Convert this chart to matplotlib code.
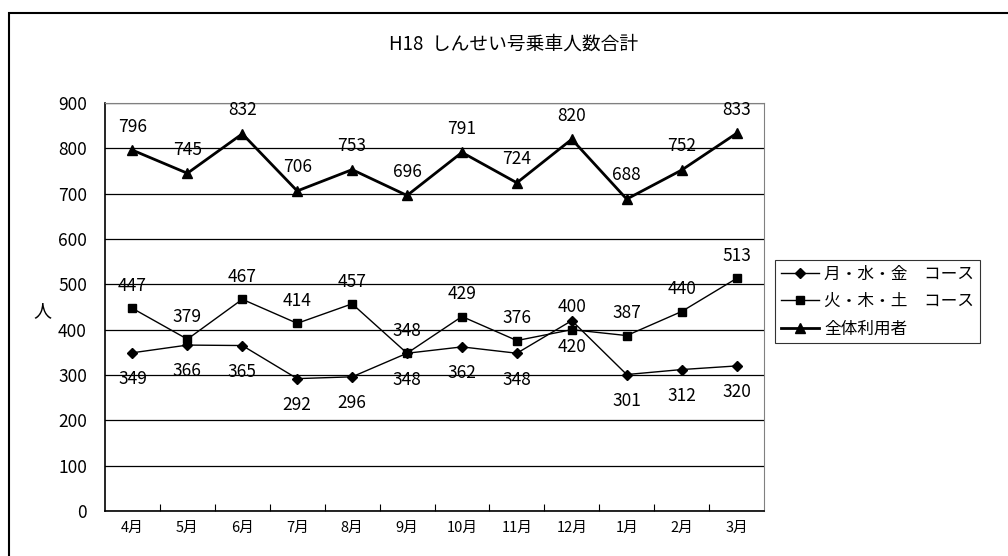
import matplotlib
matplotlib.use("Agg")
import matplotlib.pyplot as plt
from matplotlib.patches import Rectangle

plt.rcParams['font.family'] = ['Noto Sans CJK JP', 'DejaVu Sans']

# データ
months = ["4月", "5月", "6月", "7月", "8月", "9月", "10月", "11月", "12月", "1月", "2月", "3月"]
mwf = [349, 366, 365, 292, 296, 348, 362, 348, 420, 301, 312, 320]
tts = [447, 379, 467, 414, 457, 348, 429, 376, 400, 387, 440, 513]
total = [796, 745, 832, 706, 753, 696, 791, 724, 820, 688, 752, 833]
names = ["月・水・金　コース", "火・木・土　コース", "全体利用者"]

fig = plt.figure(figsize=(10.08, 5.56), dpi=100)
ax = fig.add_axes([105 / 1008, 1 - 511 / 556, 659 / 1008, 408 / 556])

# 外枠
fig.patches.append(Rectangle((9 / 1008, -0.05), 1.1, 1 - 13 / 556 + 0.05,
                             transform=fig.transFigure, fill=False,
                             edgecolor="black", linewidth=1.5))

x = range(len(months))
ax.plot(x, mwf, color="black", lw=1, marker="D", ms=5, label=names[0])
ax.plot(x, tts, color="black", lw=1, marker="s", ms=6, label=names[1])
ax.plot(x, total, color="black", lw=2, marker="^", ms=7, label=names[2])

# データラベル
for i in x:
    ax.annotate(str(mwf[i]), (i, mwf[i]), xytext=(0, -19), textcoords="offset points",
                ha="center", va="center", fontsize=12.5)
    ax.annotate(str(tts[i]), (i, tts[i]), xytext=(0, 16), textcoords="offset points",
                ha="center", va="center", fontsize=12.5)
    ax.annotate(str(total[i]), (i, total[i]), xytext=(0, 17), textcoords="offset points",
                ha="center", va="center", fontsize=12.5)

ax.set_xlim(-0.5, len(months) - 0.5)
ax.set_ylim(0, 900)
ax.set_yticks(range(0, 901, 100))
ax.tick_params(axis="y", length=0, labelsize=12.5, pad=13)
ax.set_xticks(x)
ax.set_xticklabels(months, fontsize=10.5)
ax.tick_params(axis="x", length=0, pad=7)
ax.set_xticks([i + 0.5 for i in range(len(months) - 1)], minor=True)
ax.tick_params(axis="x", which="minor", direction="in", length=5, width=0.8)
ax.grid(axis="y", color="black", lw=0.9)
ax.set_axisbelow(True)

for s in ["top", "right"]:
    ax.spines[s].set_color("gray")
for s in ["left", "bottom"]:
    ax.spines[s].set_color("black")
    ax.spines[s].set_linewidth(1.2)

ax.set_ylabel("人", rotation=0, fontsize=13, va="center", ha="center")
ax.yaxis.set_label_coords(-0.095, 0.49)

fig.text(514 / 1008, 1 - 44 / 556, "H18  しんせい号乗車人数合計", ha="center", va="center", fontsize=13.5)

leg = ax.legend(loc="upper left", bbox_to_anchor=(775 / 1008, 1 - 260 / 556),
                bbox_transform=fig.transFigure, fontsize=12, frameon=True,
                fancybox=False, edgecolor="black", borderpad=0.35,
                labelspacing=0.62, handlelength=2.3, handletextpad=0.3,
                borderaxespad=0)
leg.get_frame().set_linewidth(0.8)

fig.savefig("out.png", dpi=100)
